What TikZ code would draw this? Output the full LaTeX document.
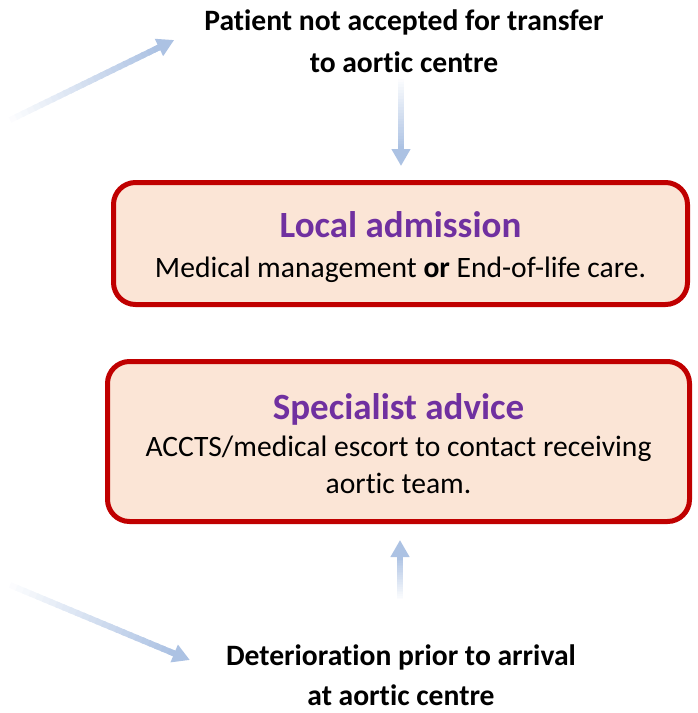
\documentclass[tikz,border=0pt]{standalone}
\usepackage{fontspec}
\setmainfont{Carlito}[Ligatures={NoCommon}]
\usepackage{xcolor}
\usetikzlibrary{arrows.meta,positioning,calc}

\definecolor{boxred}{RGB}{192,0,0}
\definecolor{boxfill}{RGB}{251,229,214}
\definecolor{titlepurple}{RGB}{112,48,160}
\definecolor{arrowblue}{RGB}{172,194,227}

\newcommand{\boxtitle}[1]{{\color{titlepurple}\fontsize{37}{38}\selectfont\bfseries #1}}

% beyazdan maviye solan ok: #1 kuyruk, #2 uç
\newcommand{\fadearrow}[2]{%
  \path #1 coordinate (fa-s) #2 coordinate (fa-e);
  \coordinate (fa-h) at ($(fa-e)!16pt!(fa-s)$);
  \foreach \i in {0,...,24}{
    \pgfmathtruncatemacro{\tint}{4+\i*4}
    \pgfmathsetmacro{\ta}{\i/25}
    \pgfmathsetmacro{\tb}{min(1,(\i+1.4)/25)}
    \draw[line width=6pt, arrowblue!\tint!white] ($(fa-s)!\ta!(fa-h)$) -- ($(fa-s)!\tb!(fa-h)$);
  }
  \draw[-{Triangle[width=18pt,length=17pt]}, line width=6pt, arrowblue] ($(fa-e)!20pt!(fa-s)$) -- (fa-e);
}

\tikzset{
  note/.style={font=\bfseries\fontsize{29.6}{#1}\selectfont, align=center, inner sep=0pt},
  note/.default=42,
  outcome/.style={draw=boxred, fill=boxfill, line width=5pt, rounded corners=22pt, inner sep=0pt},
  outcometext/.style={align=center, inner sep=0pt, font=\fontsize{29.6}{#1}\selectfont},
  outcometext/.default=38
}

\begin{document}
\begin{tikzpicture}[x=1pt, y=-1pt]
  \useasboundingbox (0,0) rectangle (697,713);

  % üst ve alt etiketler
  \node[note] (refused) at (404,41) {Patient not accepted for transfer\\to aortic centre};
  \node[note=40] (worse) at (401,675) {Deterioration prior to arrival\\at aortic centre};

  % kutular ve içlerindeki yazılar
  \node[outcome, minimum width=574pt, minimum height=122pt] (local) at (400.5,243.5) {};
  \node[outcometext] (local-text) at ($(local.center)+(0,3.5)$)
    {\boxtitle{Local admission}\\[2pt] Medical management \textbf{or} End-of-life care.};
  \node[outcome, minimum width=582pt, minimum height=160pt] (advice) at (398.5,441.5) {};
  \node[outcometext=37] (advice-text) at ($(advice.center)+(0,2)$)
    {\boxtitle{Specialist advice}\\ ACCTS/medical escort to contact receiving\\aortic team.};

  % oklar
  \coordinate (tail-up) at (10,120);
  \coordinate (tail-down) at (10,585);
  \fadearrow{(tail-up)}{($(refused.west)+(-30,-1)$)}
  \fadearrow{($(refused.south)+(-3,6)$)}{($(local.north)+(0.5,-14)$)}
  \fadearrow{($(worse.north)+(-1,-45)$)}{($(advice.south)+(1.5,16)$)}
  \fadearrow{(tail-down)}{($(worse.west)+(-36,-15)$)}
\end{tikzpicture}
\end{document}
